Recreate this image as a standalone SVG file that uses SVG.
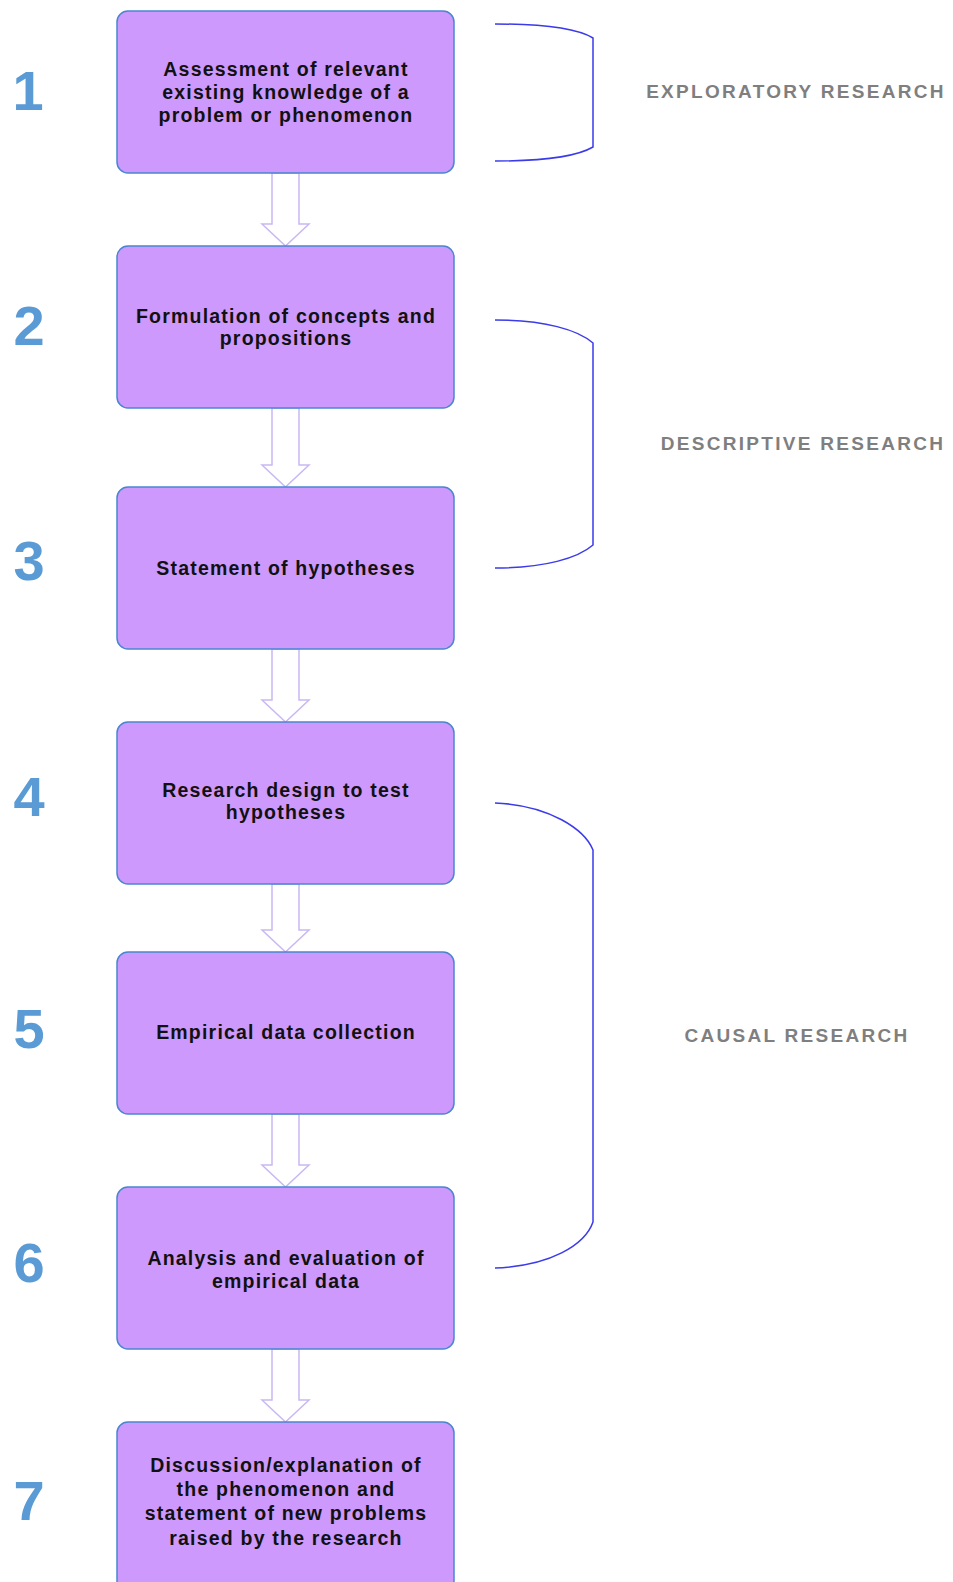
<svg xmlns="http://www.w3.org/2000/svg" width="953" height="1582" viewBox="0 0 953 1582">
  <style>
    .box { fill: #cd99fc; stroke: #4a86d0; stroke-width: 1.5; }
    .txt { font-family: "Liberation Sans", Arial, sans-serif; font-weight: bold; font-size: 19.5px; letter-spacing: 1.2px; fill: #111111; text-anchor: middle; }
    .num { font-family: "Liberation Sans", Arial, sans-serif; font-weight: bold; font-size: 56px; fill: #5b9bd5; text-anchor: middle; }
    .lbl { font-family: "Liberation Sans", Arial, sans-serif; font-weight: bold; font-size: 19px; letter-spacing: 2.3px; fill: #7f7f7f; text-anchor: middle; }
    .arrow { fill: #ffffff; stroke: #c9b8f4; stroke-width: 1.5; stroke-linejoin: miter; }
    .brace { fill: none; stroke: #3b3bea; stroke-width: 1.5; }
  </style>
  <rect width="953" height="1582" fill="#ffffff"/>

  <!-- hollow block arrows between steps -->
  <g id="connectors">
    <polygon class="arrow" points="272,173 272,224 262,224 285.5,246 309,224 299,224 299,173"/>
    <polygon class="arrow" points="272,408 272,465 262,465 285.5,487 309,465 299,465 299,408"/>
    <polygon class="arrow" points="272,649 272,700 262,700 285.5,722 309,700 299,700 299,649"/>
    <polygon class="arrow" points="272,884 272,930 262,930 285.5,952 309,930 299,930 299,884"/>
    <polygon class="arrow" points="272,1114 272,1165 262,1165 285.5,1187 309,1165 299,1165 299,1114"/>
    <polygon class="arrow" points="272,1349 272,1400 262,1400 285.5,1422 309,1400 299,1400 299,1349"/>
  </g>

  <!-- steps -->
  <g id="step1">
    <rect class="box" x="117" y="11" width="337" height="162" rx="11"/>
    <text class="num" x="28" y="110">1</text>
    <text class="txt" x="286" y="76">Assessment of relevant</text>
    <text class="txt" x="286" y="99">existing knowledge of a</text>
    <text class="txt" x="286" y="122">problem or phenomenon</text>
  </g>
  <g id="step2">
    <rect class="box" x="117" y="246" width="337" height="162" rx="11"/>
    <text class="num" x="29" y="345">2</text>
    <text class="txt" x="286" y="323">Formulation of concepts and</text>
    <text class="txt" x="286" y="345">propositions</text>
  </g>
  <g id="step3">
    <rect class="box" x="117" y="487" width="337" height="162" rx="11"/>
    <text class="num" x="29" y="580">3</text>
    <text class="txt" x="286" y="575">Statement of hypotheses</text>
  </g>
  <g id="step4">
    <rect class="box" x="117" y="722" width="337" height="162" rx="11"/>
    <text class="num" x="29" y="816">4</text>
    <text class="txt" x="286" y="797">Research design to test</text>
    <text class="txt" x="286" y="819">hypotheses</text>
  </g>
  <g id="step5">
    <rect class="box" x="117" y="952" width="337" height="162" rx="11"/>
    <text class="num" x="29" y="1048">5</text>
    <text class="txt" x="286" y="1039">Empirical data collection</text>
  </g>
  <g id="step6">
    <rect class="box" x="117" y="1187" width="337" height="162" rx="11"/>
    <text class="num" x="29" y="1282">6</text>
    <text class="txt" x="286" y="1265">Analysis and evaluation of</text>
    <text class="txt" x="286" y="1288">empirical data</text>
  </g>
  <g id="step7">
    <rect class="box" x="117" y="1422" width="337" height="170" rx="11"/>
    <text class="num" x="29" y="1520">7</text>
    <text class="txt" x="286" y="1472">Discussion/explanation of</text>
    <text class="txt" x="286" y="1496">the phenomenon and</text>
    <text class="txt" x="286" y="1520">statement of new problems</text>
    <text class="txt" x="286" y="1545">raised by the research</text>
  </g>

  <!-- research-type brackets and labels -->
  <g id="exploratory">
    <path class="brace" d="M495,24 C540,24 576,28 593,38 V147 C576,157 540,161 495,161"/>
    <text class="lbl" x="796" y="98">EXPLORATORY RESEARCH</text>
  </g>
  <g id="descriptive">
    <path class="brace" d="M495,320 C545,320 578,330 593,343 V545 C578,558 545,568 495,568"/>
    <text class="lbl" x="803" y="450">DESCRIPTIVE RESEARCH</text>
  </g>
  <g id="causal">
    <path class="brace" d="M495,803 C550,805 585,830 593,850 V1222 C585,1245 550,1266 495,1268"/>
    <text class="lbl" x="797" y="1042">CAUSAL RESEARCH</text>
  </g>
</svg>
